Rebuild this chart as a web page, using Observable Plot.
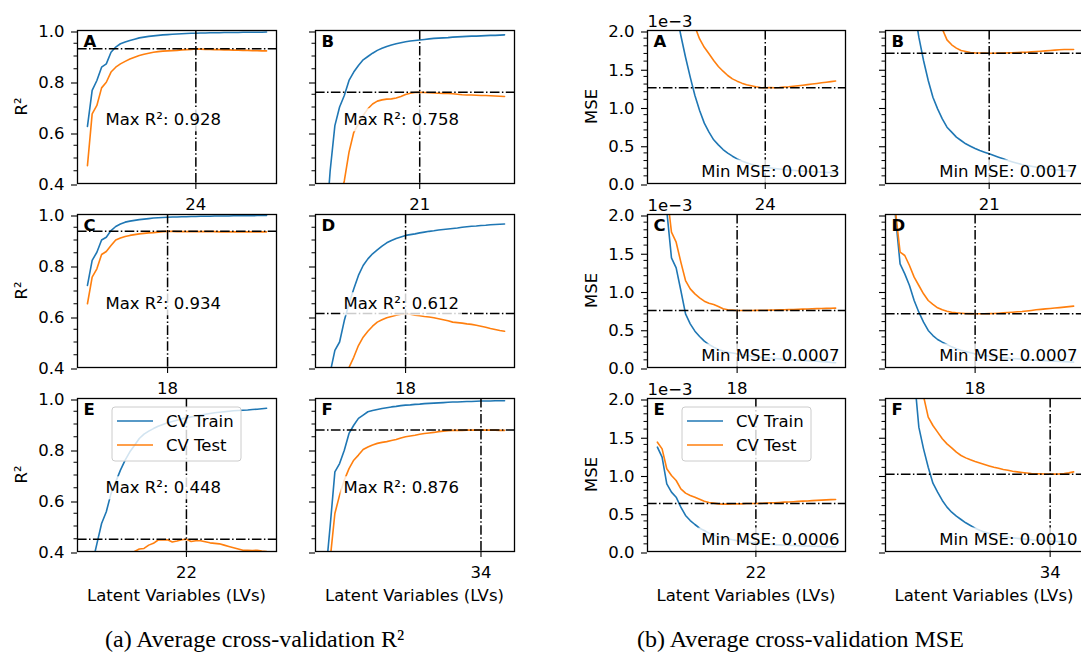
<!DOCTYPE html>
<html><head><meta charset="utf-8">
<script src="https://cdn.jsdelivr.net/npm/d3@7"></script>
<script src="https://cdn.jsdelivr.net/npm/@observablehq/plot@0.6"></script>
<style>
html,body{margin:0;padding:0;background:#fff;}
#fig{position:relative;width:1081px;height:656px;overflow:hidden;background:#fff;font-family:"DejaVu Sans",sans-serif;}
#fig .cell{position:absolute;}
#fig svg{overflow:visible;}
</style></head><body><div id="fig"></div>
<script>
// ---------- data ----------
const latentVariables = [1,2,3,4,5,6,7,8,9,10,11,12,13,14,15,16,17,18,19,20,21,22,23,24,25,26,27,28,29,30,31,32,33,34,35,36,37,38,39];
const seriesNames = ["CV Train", "CV Test"];
const seriesColors = ["#1f77b4", "#ff7f0e"];
const panelLetters = ["A", "B", "C", "D", "E", "F"];
const optimalLV = [24, 21, 18, 18, 22, 34];
const maxR2 = [0.928, 0.758, 0.934, 0.612, 0.448, 0.876];
const minMSE = [1.251, 1.702, 0.745, 0.702, 0.627, 1.011]; // ×1e-3

const r2Ticks = [0.4, 0.6, 0.8, 1.0];
const r2MinorTicks = [0.45, 0.5, 0.55, 0.65, 0.7, 0.75, 0.85, 0.9, 0.95];
const mseTicks = [0, 0.5, 1.0, 1.5, 2.0];
const mseMinorTicks = [0.1,0.2,0.3,0.4,0.6,0.7,0.8,0.9,1.1,1.2,1.3,1.4,1.6,1.7,1.8,1.9];

const r2TrainA = [.624,.765,.804,.856,.869,.915,.935,.948,.955,.961,.966,.971,.974,.977,.979,.981,.983,.984,.985,.986,.987,.988,.989,.989,.990,.990,.991,.991,.991,.992,.992,.992,.992,.993,.993,.993,.993,.993,.994];
const r2TestA  = [.470,.673,.706,.775,.797,.837,.856,.869,.879,.888,.895,.902,.907,.911,.915,.917,.919,.920,.921,.922,.924,.925,.926,.928,.927,.926,.926,.925,.925,.924,.924,.923,.923,.922,.922,.921,.921,.920,.920];
const r2TrainB = [.20,.45,.627,.70,.745,.804,.837,.863,.885,.898,.911,.922,.930,.937,.943,.948,.952,.956,.959,.961,.963,.965,.967,.969,.970,.971,.972,.974,.975,.976,.977,.978,.978,.979,.980,.981,.981,.982,.983];
const r2TestB  = [-.20,.05,.20,.33,.41,.523,.600,.634,.667,.693,.712,.723,.728,.731,.732,.735,.741,.749,.754,.757,.758,.757,.756,.755,.754,.753,.753,.752,.750,.748,.747,.747,.746,.745,.745,.744,.743,.742,.741];
const r2TrainC = [.722,.820,.852,.900,.911,.937,.953,.963,.970,.974,.977,.980,.982,.984,.986,.987,.988,.989,.990,.990,.991,.991,.992,.992,.993,.993,.993,.994,.994,.994,.994,.995,.995,.995,.995,.995,.996,.996,.996];
const r2TestC  = [.650,.754,.787,.843,.855,.878,.900,.908,.914,.918,.921,.924,.926,.928,.929,.931,.933,.934,.934,.933,.933,.933,.933,.933,.933,.933,.933,.933,.932,.932,.932,.932,.932,.932,.932,.932,.932,.932,.932];
const r2TrainD = [.30,.38,.467,.50,.584,.650,.708,.761,.800,.826,.846,.861,.876,.889,.898,.906,.912,.918,.921,.924,.928,.931,.934,.936,.939,.941,.943,.945,.947,.950,.952,.954,.955,.957,.958,.960,.961,.962,.963];
const r2TestD  = [.05,.15,.24,.31,.36,.40,.44,.486,.519,.542,.562,.578,.587,.595,.600,.605,.609,.612,.609,.605,.603,.600,.598,.595,.591,.587,.583,.578,.576,.574,.571,.569,.566,.562,.558,.553,.549,.545,.542];
const r2TrainE = [.28,.35,.43,.51,.556,.627,.673,.719,.758,.791,.817,.843,.860,.872,.882,.891,.898,.905,.910,.915,.920,.924,.928,.931,.935,.938,.941,.944,.946,.948,.950,.952,.953,.954,.955,.957,.958,.960,.962];
const r2TestE  = [.10,.18,.24,.28,.31,.33,.35,.37,.38,.39,.400,.410,.412,.425,.432,.445,.445,.446,.437,.441,.446,.448,.439,.442,.442,.438,.434,.432,.430,.425,.420,.415,.410,.405,.405,.404,.405,.402,.400];
const r2TrainF = [.30,.50,.712,.745,.797,.863,.895,.922,.935,.948,.953,.957,.961,.964,.967,.969,.972,.974,.975,.977,.978,.980,.981,.982,.983,.984,.985,.986,.986,.987,.988,.988,.989,.990,.990,.990,.991,.991,.991];
const r2TestF  = [.10,.37,.549,.621,.680,.725,.758,.778,.800,.810,.818,.824,.828,.831,.835,.839,.845,.850,.853,.856,.860,.863,.865,.867,.870,.872,.874,.875,.875,.875,.876,.876,.876,.876,.876,.876,.876,.875,.875];

// MSE in units of 1e-3
const mseTrainA = [6.5,4.8,3.6,2.8,2.25,1.935,1.65,1.39,1.15,.954,.789,.671,.571,.505,.444,.397,.357,.322,.295,.270,.252,.235,.223,.213,.204,.196,.189,.183,.177,.172,.167,.162,.158,.154,.151,.148,.145,.142,.140];
const mseTestA  = [9.0,6.0,5.0,4.0,3.3,2.9,2.6,2.35,2.05,1.89,1.78,1.695,1.608,1.53,1.468,1.412,1.368,1.338,1.312,1.29,1.277,1.264,1.255,1.251,1.253,1.252,1.255,1.26,1.265,1.272,1.278,1.285,1.293,1.30,1.308,1.316,1.324,1.332,1.34];
const mseTrainB = [8,5.5,4.0,3.0,2.3,1.913,1.608,1.346,1.128,.976,.845,.736,.671,.606,.562,.519,.488,.458,.431,.41,.388,.366,.344,.322,.30,.282,.265,.248,.236,.225,.214,.205,.196,.187,.181,.175,.17,.165,.161];
const mseTestB  = [9,7,5.5,4.5,3.8,3.3,2.9,2.6,2.35,2.15,2.02,1.878,1.813,1.77,1.739,1.725,1.712,1.708,1.706,1.704,1.702,1.703,1.704,1.705,1.708,1.710,1.712,1.714,1.716,1.720,1.725,1.729,1.734,1.738,1.743,1.748,1.752,1.752,1.752];
const mseTrainC = [4.0,2.8,2.05,1.433,1.303,1.007,.70,.571,.475,.405,.344,.30,.266,.235,.215,.20,.189,.179,.168,.158,.148,.141,.134,.128,.122,.117,.113,.109,.104,.10,.096,.092,.088,.085,.081,.077,.073,.067,.062];
const mseTestC  = [4.5,3.2,2.3,1.769,1.638,1.377,1.137,1.028,.963,.911,.867,.841,.824,.797,.767,.754,.75,.745,.745,.746,.746,.747,.748,.749,.750,.752,.753,.755,.757,.759,.761,.763,.765,.767,.769,.771,.773,.775,.776];
const mseTrainD = [1.987,1.355,1.224,1.072,.876,.723,.593,.484,.418,.366,.331,.301,.27,.244,.225,.209,.193,.179,.168,.158,.148,.141,.134,.128,.122,.117,.113,.109,.105,.10,.097,.093,.09,.086,.083,.079,.076,.073,.07];
const mseTestD  = [2.05,1.508,1.464,1.333,1.181,1.072,.963,.876,.824,.78,.754,.736,.723,.715,.71,.706,.704,.702,.702,.702,.704,.706,.71,.714,.719,.723,.728,.732,.739,.746,.754,.76,.766,.771,.777,.783,.789,.796,.802];
const mseTrainE = [1.364,1.233,.885,.776,.71,.58,.471,.405,.353,.305,.275,.24,.216,.196,.18,.166,.153,.142,.131,.123,.116,.109,.104,.099,.094,.09,.087,.084,.081,.078,.076,.074,.072,.07,.068,.066,.064,.062,.06];
const mseTestE  = [1.429,1.342,1.081,.993,.928,.819,.763,.732,.71,.684,.658,.641,.632,.623,.619,.619,.623,.623,.623,.627,.627,.627,.629,.632,.635,.638,.641,.645,.648,.651,.655,.658,.661,.665,.668,.671,.675,.678,.68];
const mseTrainF = [9,6.5,4.5,3.2,2.3,1.625,1.342,1.102,.893,.776,.667,.58,.514,.462,.418,.375,.34,.305,.277,.253,.237,.222,.209,.198,.188,.179,.172,.165,.159,.153,.148,.143,.139,.135,.132,.129,.126,.124,.122];
const mseTestF  = [10,7,5,3.7,2.9,2.4,2.03,1.756,1.647,1.56,1.473,1.407,1.355,1.298,1.255,1.224,1.198,1.176,1.156,1.137,1.119,1.102,1.087,1.072,1.061,1.05,1.041,1.033,1.026,1.02,1.017,1.015,1.013,1.011,1.012,1.015,1.02,1.028,1.041];

const r2Train = [r2TrainA, r2TrainB, r2TrainC, r2TrainD, r2TrainE, r2TrainF];
const r2Test = [r2TestA, r2TestB, r2TestC, r2TestD, r2TestE, r2TestF];
const mseTrain = [mseTrainA, mseTrainB, mseTrainC, mseTrainD, mseTrainE, mseTrainF];
const mseTest = [mseTestA, mseTestB, mseTestC, mseTestD, mseTestE, mseTestF];

// ---------- layout ----------
const FONT = "DejaVu Sans";
const FS = 16.5;
const frameH = 153;
const rowTop = [30, 214, 398];
const r2ColLeft = [77, 315], r2W = 199;
const mseColLeft = [647, 885], mseW = 198;
const ML = 75, MR = 8, MT = 32, MB = 42;
const dashdot = "9.6,2.4,1.5,2.4";
const [lvMin, lvMax] = d3.extent(latentVariables);
const pad = (lvMax - lvMin) * 0.05 / 0.9;
const xDomain = [lvMin - pad, lvMax + pad];

const fig = document.getElementById("fig");
const notes = [];

function panel({train, test, idx, kind, left, top, w}) {
  const isR2 = kind === "r2";
  const showY = idx % 2 === 0;
  const opt = optimalLV[idx];
  const ref = isR2 ? maxR2[idx] : minMSE[idx];
  const note = isR2 ? `Max R²: ${maxR2[idx].toFixed(3)}` : `Min MSE: ${(minMSE[idx] / 1000).toFixed(4)}`;
  notes.push(note);
  const marks = [
    Plot.line(train, {x: (d, i) => latentVariables[i], y: d => d, stroke: seriesColors[0], strokeWidth: 1.6, clip: true}),
    Plot.line(test, {x: (d, i) => latentVariables[i], y: d => d, stroke: seriesColors[1], strokeWidth: 1.6, clip: true}),
    Plot.ruleY([ref], {stroke: "black", strokeWidth: 1.5, strokeDasharray: dashdot}),
    Plot.ruleX([opt], {stroke: "black", strokeWidth: 1.5, strokeDasharray: dashdot}),
    isR2
      ? Plot.text([note], {frameAnchor: "left", textAnchor: "start", lineAnchor: "middle", dx: 28, dy: 13, fill: "black", fontSize: FS})
      : Plot.text([note], {frameAnchor: "bottom-right", textAnchor: "end", lineAnchor: "bottom", dx: -6, dy: -7, fill: "black", fontSize: FS}),
    Plot.text([panelLetters[idx]], {frameAnchor: "top-left", textAnchor: "start", lineAnchor: "top", dx: 6, dy: 5, fontWeight: "bold", fill: "black", fontSize: FS}),
    Plot.axisY({ticks: isR2 ? r2MinorTicks : mseMinorTicks, tickSize: 3.5, tickFormat: () => "", strokeWidth: 1, label: null}),
    Plot.axisY({ticks: isR2 ? r2Ticks : mseTicks, tickSize: 6, tickPadding: 7, dy: 1.5, strokeWidth: 1.1, fontSize: FS,
      tickFormat: showY ? d3.format(".1f") : () => "", label: null}),
    Plot.axisX({ticks: [opt], tickSize: 6, tickPadding: 9, strokeWidth: 1.1, fontSize: FS, tickFormat: d => String(d), label: null}),
    Plot.frame({stroke: "black", strokeWidth: 1.3})
  ];
  if (!isR2 && showY) {
    marks.push(Plot.text(["1e\u22123"], {frameAnchor: "top-left", textAnchor: "start", lineAnchor: "bottom", dx: 0, dy: -4, fill: "black", fontSize: FS}));
  }
  const svg = Plot.plot({
    width: ML + w + MR,
    height: MT + frameH + MB,
    marginLeft: ML, marginRight: MR, marginTop: MT, marginBottom: MB,
    x: {domain: xDomain, label: null},
    y: {domain: isR2 ? [0.4, 1.0] : [0, 2.0], label: null},
    style: {fontFamily: FONT, fontSize: FS + "px", background: "transparent", overflow: "visible", maxWidth: "none", color: "black"},
    marks
  });
  const cell = document.createElement("div");
  cell.className = "cell";
  cell.style.left = (left - ML) + "px";
  cell.style.top = (top - MT) + "px";
  cell.appendChild(svg);
  fig.appendChild(cell);
}

for (let i = 0; i < 6; i++) {
  const row = Math.floor(i / 2), col = i % 2;
  panel({train: r2Train[i], test: r2Test[i], idx: i, kind: "r2", left: r2ColLeft[col], top: rowTop[row], w: r2W});
  panel({train: mseTrain[i], test: mseTest[i], idx: i, kind: "mse", left: mseColLeft[col], top: rowTop[row], w: mseW});
}

// white boxes behind annotation texts (like matplotlib bbox)
fig.querySelectorAll("text").forEach(t => {
  if (!notes.includes(t.textContent)) return;
  const b = t.getBBox();
  const r = document.createElementNS("http://www.w3.org/2000/svg", "rect");
  r.setAttribute("x", b.x - 3); r.setAttribute("y", b.y - 2);
  r.setAttribute("width", b.width + 6); r.setAttribute("height", b.height + 4);
  r.setAttribute("fill", "white"); r.setAttribute("fill-opacity", 0.8);
  if (t.getAttribute("transform")) r.setAttribute("transform", t.getAttribute("transform"));
  t.parentNode.insertBefore(r, t);
});

// ---------- overlay: axis titles, legends, captions ----------
const ov = d3.select(fig).append("svg")
  .attr("width", 1081).attr("height", 656)
  .style("position", "absolute").style("left", 0).style("top", 0)
  .style("font-family", FONT).style("font-size", FS + "px");

rowTop.forEach(t => {
  ov.append("text").attr("transform", `translate(27,${t + frameH / 2}) rotate(-90)`).attr("text-anchor", "middle").text("R²");
  ov.append("text").attr("transform", `translate(597,${t + frameH / 2}) rotate(-90)`).attr("text-anchor", "middle").text("MSE");
});
[[r2ColLeft, r2W], [mseColLeft, mseW]].forEach(([cols, w]) => cols.forEach(l => {
  ov.append("text").attr("x", l + w / 2).attr("y", 600.5).attr("text-anchor", "middle").text("Latent Variables (LVs)");
}));

[r2ColLeft[0], mseColLeft[0]].forEach(l => {
  const g = ov.append("g").attr("transform", `translate(${l + 35},${rowTop[2] + 9})`);
  g.append("rect").attr("width", 129).attr("height", 54).attr("rx", 3)
    .attr("fill", "white").attr("fill-opacity", 0.8).attr("stroke", "#cccccc").attr("stroke-width", 1);
  seriesNames.forEach((name, k) => {
    const y = 14 + 24 * k;
    g.append("line").attr("x1", 5).attr("x2", 41).attr("y1", y).attr("y2", y)
      .attr("stroke", seriesColors[k]).attr("stroke-width", 1.6);
    g.append("text").attr("x", 54).attr("y", y + 6).text(name);
  });
});

const capFont = "'Liberation Serif', serif";
ov.append("text").attr("x", 105).attr("y", 647).style("font-family", capFont).style("font-size", "24px")
  .text("(a) Average cross-validation R²");
ov.append("text").attr("x", 637).attr("y", 647).style("font-family", capFont).style("font-size", "24px")
  .text("(b) Average cross-validation MSE");
</script>
</body></html>
